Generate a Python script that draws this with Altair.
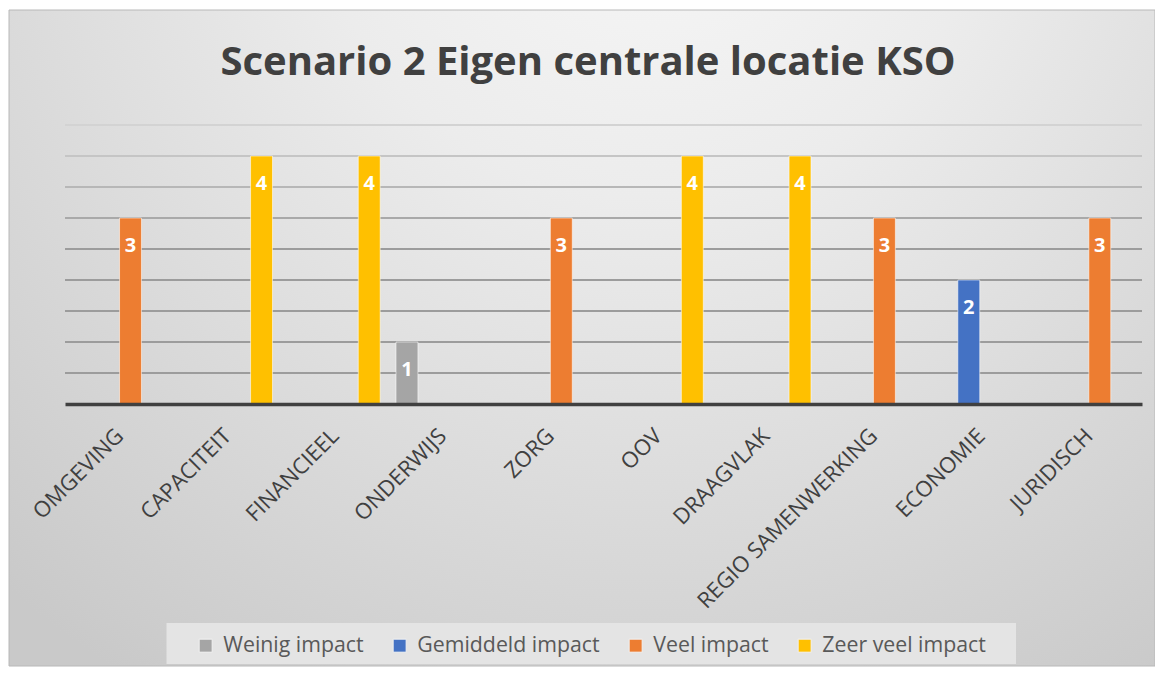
import altair as alt
import pandas as pd

# ---- data ----
categories = ["OMGEVING", "CAPACITEIT", "FINANCIEEL", "ONDERWIJS", "ZORG",
              "OOV", "DRAAGVLAK", "REGIO SAMENWERKING", "ECONOMIE", "JURIDISCH"]
series_names = ["Weinig impact", "Gemiddeld impact", "Veel impact", "Zeer veel impact"]
series_colors = ["#A5A5A5", "#4472C4", "#ED7D31", "#FFC000"]

weinig_impact    = [None, None, None, 1, None, None, None, None, None, None]
gemiddeld_impact = [None, None, None, None, None, None, None, None, 2, None]
veel_impact      = [3, None, None, None, 3, None, None, 3, None, 3]
zeer_veel_impact = [None, 4, 4, None, None, 4, 4, None, None, None]

title_text = "Scenario 2 Eigen centrale locatie KSO"
grid_values = [0.5, 1.0, 1.5, 2.0, 2.5, 3.0, 3.5, 4.0, 4.5]

rows = []
for name, vals in zip(series_names, [weinig_impact, gemiddeld_impact, veel_impact, zeer_veel_impact]):
    for cat, v in zip(categories, vals):
        if v is not None:
            rows.append({"categorie": cat, "impact": name, "score": v})
df = pd.DataFrame(rows)
grid_df = pd.DataFrame({"score": grid_values})

W, H = 1077, 279
y_scale = alt.Scale(domain=[0, 4.5], nice=False, zero=True)

# decorative chart-area background (radial gradient + thin frame)
bg = alt.Chart(pd.DataFrame({"bg": [0]})).mark_rect(
    fill={"gradient": "radial",
          "stops": [{"offset": 0, "color": "#f8f8f8"},
                    {"offset": 0.35, "color": "#ececec"},
                    {"offset": 1, "color": "#c9c9c9"}],
          "x1": 0.56, "y1": 0.08, "r1": 0,
          "x2": 0.56, "y2": 0.08, "r2": 0.85},
    stroke="#b8b8b8", strokeWidth=1,
).encode(x=alt.value(-56), x2=alt.value(1090), y=alt.value(-115), y2=alt.value(541))

# decorative legend panel
legend_box = alt.Chart(pd.DataFrame({"bg": [0]})).mark_rect(fill="#e4e4e4").encode(
    x=alt.value(101.5), x2=alt.value(951), y=alt.value(498), y2=alt.value(539))

# horizontal gridlines (behind the bars)
grid = alt.Chart(grid_df).mark_rule(strokeWidth=2).encode(
    y=alt.Y("score:Q", scale=y_scale, axis=None),
    x=alt.value(0), x2=alt.value(W),
    stroke=alt.Stroke("score:Q", scale=alt.Scale(domain=[2.5, 4.5], range=["#9c9c9c", "#d3d3d3"], clamp=True),
                      legend=None),
)

x_enc = alt.X("categorie:N", sort=categories,
              scale=alt.Scale(domain=categories, paddingInner=0.134, paddingOuter=0.067),
              axis=alt.Axis(title=None, labelAngle=-45, labelAlign="right", labelBaseline="middle",
                            labelPadding=28, labelOffset=1, ticks=False, tickSize=0,
                            domainColor="#404040", domainWidth=3.5,
                            labelFont="Open Sans", labelFontSize=22, labelColor="#404040",
                            labelLimit=400, grid=False, zindex=1))
xo_enc = alt.XOffset("impact:N", sort=series_names,
                     scale=alt.Scale(domain=series_names, paddingInner=0.06, paddingOuter=0.03))
y_enc = alt.Y("score:Q", scale=y_scale, axis=None)

bars = alt.Chart(df).mark_bar(stroke="#ffffff", strokeWidth=1, strokeOpacity=0.55).encode(
    x=x_enc, xOffset=xo_enc, y=y_enc,
    color=alt.Color("impact:N", sort=series_names,
                    scale=alt.Scale(domain=series_names, range=series_colors),
                    legend=alt.Legend(title=None, orient="none", legendX=119, legendY=499,
                                      direction="horizontal", symbolType="square", symbolSize=169,
                                      symbolStrokeColor="#f2f2f2", symbolStrokeWidth=1,
                                      labelFont="Open Sans", labelFontSize=21.3, labelColor="#595959",
                                      labelOffset=7, columnPadding=25, labelLimit=400,
                                      padding=11)),
)

labels = alt.Chart(df).mark_text(dy=28, baseline="middle", align="center", color="white",
                                 fontWeight="bold", fontSize=20, font="Open Sans").encode(
    x=alt.X("categorie:N", sort=categories), xOffset=alt.XOffset("impact:N", sort=series_names),
    y=alt.Y("score:Q", axis=None), text=alt.Text("score:Q"),
)

chart = alt.layer(bg, legend_box, grid, bars, labels).properties(
    width=W, height=H,
    title=alt.TitleParams(title_text, font="Open Sans", fontSize=40, fontWeight="bold",
                          color="#404040", anchor="middle", frame="bounds",
                          baseline="alphabetic", offset=-105, dx=6),
    autosize=alt.AutoSizeParams(type="none"),
    padding={"left": 57, "top": 117, "right": 13, "bottom": 263},
).configure_view(stroke=None).configure(background="white")

chart.save("out.html", embed_options={"renderer": "svg", "actions": False})
